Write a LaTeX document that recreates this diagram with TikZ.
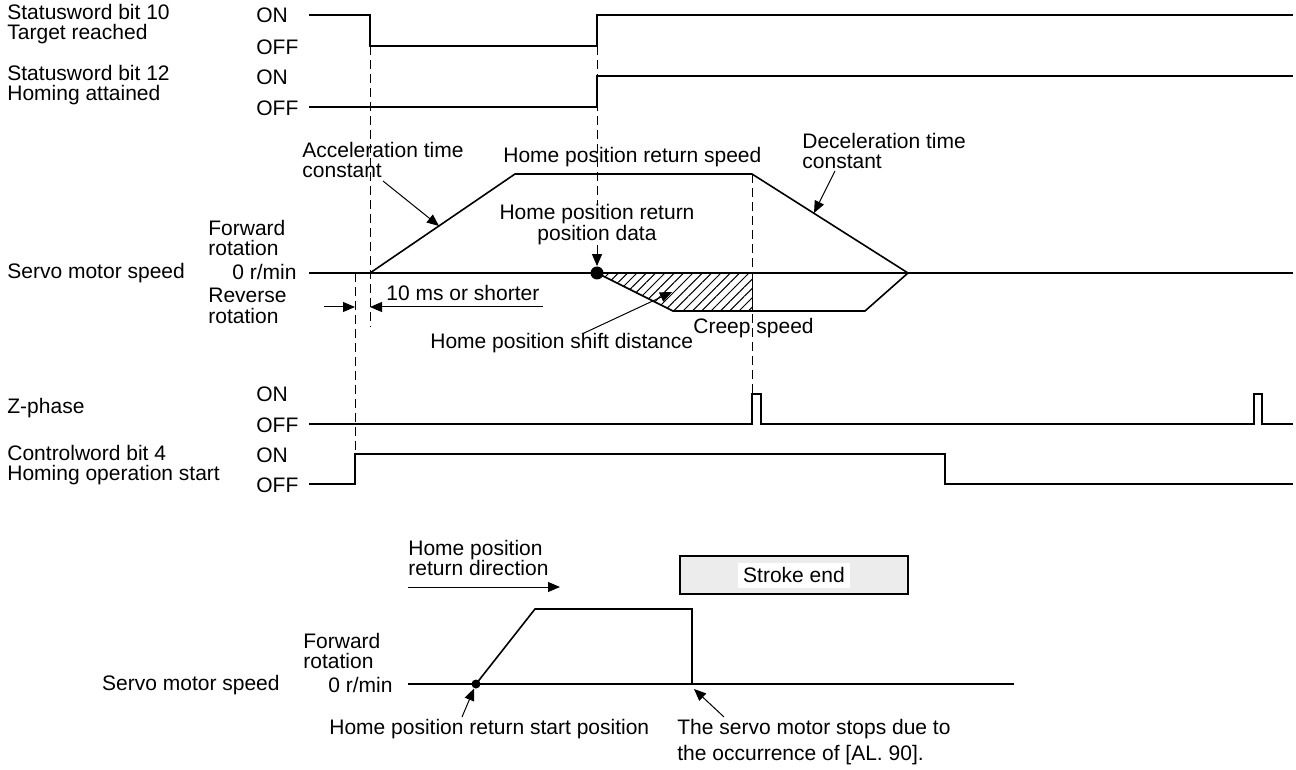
\documentclass[tikz,border=0pt]{standalone}
\usepackage{fontspec}
\setmainfont{Liberation Sans}
\usetikzlibrary{arrows.meta, positioning, patterns.meta}
\newcommand{\sigfont}{\fontsize{10.5}{10.2}\selectfont}

\begin{document}
\begin{tikzpicture}[
  x=0.5pt, y=-0.5pt,
  txt/.style={font=\sigfont, inner sep=0pt, align=left, anchor=west},
  lvl/.style={font=\sigfont, inner sep=0pt, anchor=west},
  wave/.style={line width=0.8pt, line join=miter},
  guide/.style={line width=0.5pt, dash pattern=on 4.5pt off 2.5pt},
  leader/.style={-{Triangle[length=6pt, width=5pt]}, line width=0.5pt},
  hpdot/.style={circle, fill, inner sep=0pt, minimum size=#1},
  hpdot/.default=6.5pt
]
  \useasboundingbox (0,0) rectangle (1296,770);

  \node[txt] (sw10) at (7,24) {Statusword bit 10\\Target reached};
  \node[txt] (sw12) at (7,85) {Statusword bit 12\\Homing attained};
  \node[txt] (speed) at (7,273) {Servo motor speed};
  \node[txt] (zph) at (7,408) {Z-phase};
  \node[txt] (cw4) at (7,465) {Controlword bit 4\\Homing operation start};

  \node[lvl] (on1) at (256,15) {ON};
  \node[lvl] (off1) at (256,47) {OFF};
  \node[lvl] (on2) at (256,77) {ON};
  \node[lvl] (off2) at (256,108) {OFF};
  \node[lvl] (on3) at (256,394) {ON};
  \node[lvl] (off3) at (256,425) {OFF};
  \node[lvl] (on4) at (256,455) {ON};
  \node[lvl] (off4) at (256,485) {OFF};

  \node[txt] (fwd) at (208,238) {Forward\\rotation};
  \node[lvl, anchor=east] (zero) at (297,272) {0 r/min};
  \node[txt] (rev) at (208,306) {Reverse\\rotation};

  \draw[wave] (309,15) -- (370,15) -- (370,46) -- (597,46) -- (597,15) -- (1293,15);
  \draw[wave] (309,107) -- (597,107) -- (597,76) -- (1293,76);
  \draw[wave] (309,424) -- (752,424) -- (752,394) -- (761,394) -- (761,424)
    -- (1254,424) -- (1254,394) -- (1262,394) -- (1262,424) -- (1293,424);
  \draw[wave] (309,484) -- (355,484) -- (355,454) -- (945,454) -- (945,484) -- (1293,484);

  \fill[pattern={Lines[angle=45, distance=3.3pt, line width=0.5pt]}]
    (597,273) -- (673,311) -- (752,311) -- (752,273) -- cycle;
  \draw[wave] (309,273) -- (1293,273);
  \draw[wave] (370,273) -- (515,174) -- (752,174) -- (908,273);
  \draw[wave] (597,273) -- (673,311) -- (865,311) -- (908,273);
  \draw[line width=0.5pt] (752,273) -- (752,311);

  \draw[guide] (370,46) -- (370,327);
  \draw[guide] (355,273) -- (355,454);
  \draw[guide] (597,46) -- (597,205);
  \draw[guide] (752,174) -- (752,394);

  \node[hpdot] (retdot) at (597,273) {};
  \node[txt, anchor=south, align=center, above=10.5pt of retdot] (retdata) {Home position return\\position data};
  \draw[leader] (retdata) -- (retdot);

  \node[txt] (acc) at (302,160) {Acceleration time\\constant};
  \coordinate (accfrom) at (383,181);
  \coordinate (accto) at (439,226);
  \draw[leader] (accfrom) -- (accto);

  \node[txt] (retspeed) at (503,157) {Home position return speed};

  \node[txt] (dec) at (802,151) {Deceleration time\\constant};
  \coordinate (decfrom) at (835,171);
  \coordinate (decto) at (814,213);
  \draw[leader] (decfrom) -- (decto);

  \node[txt] (tenms) at (386,293) {10 ms or shorter};
  \coordinate (tl0) at (324,307);
  \coordinate (tl1) at (355,307);
  \coordinate (tr0) at (543,307);
  \coordinate (tr1) at (370,307);
  \draw[leader] (tl0) -- (tl1);
  \draw[leader] (tr0) -- (tr1);

  \node[txt] (shift) at (430,343) {Home position shift distance};
  \coordinate (shiftfrom) at (582,334);
  \coordinate (shiftto) at (672,292);
  \draw[leader] (shiftfrom) -- (shiftto);

  \node[txt] (creep) at (693,328) {Creep speed};

  \node[txt] (dirlbl) at (408,558) {Home position\\return direction};
  \coordinate (dir0) at (408,587);
  \coordinate (dir1) at (560,587);
  \draw[leader] (dir0) -- (dir1);

  \node[draw, fill=gray!15, line width=0.6pt, minimum width=114pt, minimum height=19pt] (stroke) at (794,575) {};
  \node[fill=white, font=\sigfont, inner xsep=2.5pt, inner ysep=0pt, minimum height=12.5pt] (strokelbl) at (stroke.center) {Stroke end};

  \node[lvl, anchor=east] (speed2) at (280,685) {Servo motor speed};
  \node[txt] (fwd2) at (303,651) {Forward\\rotation};
  \node[lvl, anchor=east] (zero2) at (393,685) {0 r/min};

  \draw[wave] (408,684) -- (1014,684);
  \draw[wave] (476,684) -- (535,609) -- (692,609) -- (692,684);
  \node[hpdot=4.5pt] (startdot) at (476,684) {};

  \node[txt] (startlbl) at (329,729) {Home position return start position};
  \coordinate (startfrom) at (462,717);
  \draw[leader] (startfrom) -- (startdot);

  \node[txt] (stoplbl) at (677,742) {The servo motor stops due to\\[3pt]the occurrence of [AL. 90].};
  \coordinate (stopfrom) at (724,717);
  \coordinate (stopto) at (694,689);
  \draw[leader] (stopfrom) -- (stopto);
\end{tikzpicture}
\end{document}
